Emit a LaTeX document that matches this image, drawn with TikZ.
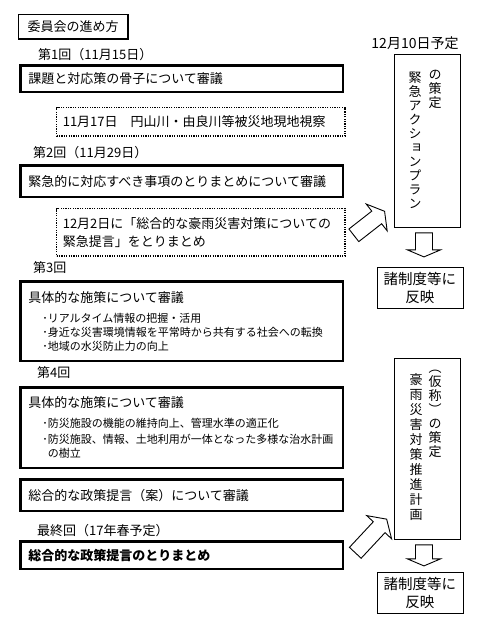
\documentclass[tikz,border=0pt]{standalone}
\usepackage{fontspec}
\setmainfont{Noto Sans CJK JP}
\newfontfamily\tatefont{Noto Sans CJK JP}[RawFeature=+vert]
\usetikzlibrary{calc,positioning}

\newcommand{\fatarrow}[6]{%
  \draw[fill=white,line width=.9pt,shift={(#1)},rotate=#2]
    (0,-#4)--({#3-#6},-#4)--({#3-#6},-#5)--(#3,0)--({#3-#6},#5)--({#3-#6},#4)--(0,#4)--cycle;}

\begin{document}
\begin{tikzpicture}[x=1pt,y=-1pt,
    every node/.style={inner sep=0pt,font=\fontsize{13}{16}\selectfont},
    heavy/.style={draw,line width=2.6pt,anchor=north west,inner xsep=7.7pt,
      text width=307pt,align=left},
    dotbox/.style={draw,line width=1.6pt,dash pattern=on 1.2pt off 1.2pt,
      anchor=north west,inner xsep=6.25pt,text width=276pt,align=left},
    thin/.style={draw,line width=.9pt,anchor=north west},
    meeting/.style={anchor=west},
    tate/.style={anchor=north,align=center,font=\tatefont\fontsize{13}{14}\selectfont}]
  \fill[white] (0,0) rectangle (477,629);
  \useasboundingbox (0,0) rectangle (477,629);

  \node[thin,line width=1.3pt,minimum width=109.8pt,minimum height=24.8pt] (title) at (17.6,13.6) {委員会の進め方};

  \node[meeting] (m1) at (38,55) {第1回（11月15日）};
  \node[heavy,minimum height=26.4pt] (s1) at (19.3,64.3) {課題と対応策の骨子について審議};
  \node[dotbox,minimum height=28.5pt] (d1) at (55.75,106.75) {11月17日\hspace{1em}円山川・由良川等被災地現地視察};

  \node[meeting] (m2) at (33,153) {第2回（11月29日）};
  \node[heavy,minimum height=31.4pt] (s2) at (19.3,164.3) {緊急的に対応すべき事項のとりまとめについて審議};
  \node[dotbox,minimum height=47.5pt,font=\fontsize{13}{18}\selectfont] (d2) at (55.75,207.75)
    {12月2日に「総合的な豪雨災害対策についての\\緊急提言」をとりまとめ};

  \node[meeting] (m3) at (33,268) {第3回};
  \node[heavy,minimum height=79.4pt,font=\fontsize{11}{14}\selectfont] (s3) at (19.3,280.3)
    {{\fontsize{13}{14}\selectfont 具体的な施策について審議}\\[6pt]
     \hspace*{14pt}･リアルタイム情報の把握・活用\\
     \hspace*{14pt}･身近な災害環境情報を平常時から共有する社会への転換\\
     \hspace*{14pt}･地域の水災防止力の向上};

  \node[meeting] (m4) at (37,373) {第4回};
  \node[heavy,minimum height=80.4pt,font=\fontsize{11}{14}\selectfont] (s4) at (19.3,386.3)
    {{\fontsize{13}{14}\selectfont 具体的な施策について審議}\\[6pt]
     \hspace*{14pt}･防災施設の機能の維持向上、管理水準の適正化\\[2pt]
     \hspace*{14pt}･防災施設、情報、土地利用が一体となった多様な治水計画\\
     \hspace*{19.5pt}の樹立};

  \node[heavy,minimum height=31.4pt] (s5) at (19.3,478.3) {総合的な政策提言（案）について審議};

  \node[meeting] (m5) at (37,531) {最終回（17年春予定）};
  \node[heavy,minimum height=27.4pt] (s6) at (19.3,540.3) {\bfseries 総合的な政策提言のとりまとめ};

  \node[font=\fontsize{14}{14}\selectfont] (date) at (415,43) {12月10日予定};
  \node[thin,minimum width=66pt,minimum height=173pt] (planA) at (393.5,53.5) {};
  \node[tate] (pA1) at (415,72) {緊\\急\\ア\\ク\\シ\\ョ\\ン\\プ\\ラ\\ン};
  \node[tate] (pA2) at (435,70) {の\\策\\定};

  \node[thin,minimum width=66pt,minimum height=181pt] (planB) at (393.5,357.5) {};
  \node[tate,font=\tatefont\fontsize{13}{15}\selectfont] (pB1) at (416,373) {豪\\雨\\災\\害\\対\\策\\推\\進\\計\\画};
  \node[tate] (pB2) at (435,370) {（\\仮\\称\\）\\の\\策\\定};

  \foreach \n/\y in {1/266.5,2/571.5}
    \node[thin,minimum width=86pt,minimum height=41.5pt,align=center,
      font=\fontsize{14.5}{18}\selectfont] (refl\n) at (376.5,\y) {諸制度等に\\反映};

  \fatarrow{$(d2.east)+(8,3)$}{38}{39}{8}{17}{10}
  \fatarrow{$(s6.east)+(11,-2.5)$}{47}{46}{8}{17}{11}
  \fatarrow{$(planA.south)+(-3,5.5)$}{-90}{24}{8.5}{16.5}{7}
  \fatarrow{$(planB.south)+(-3,5.5)$}{-90}{21}{8.5}{16.5}{7}
\end{tikzpicture}
\end{document}
